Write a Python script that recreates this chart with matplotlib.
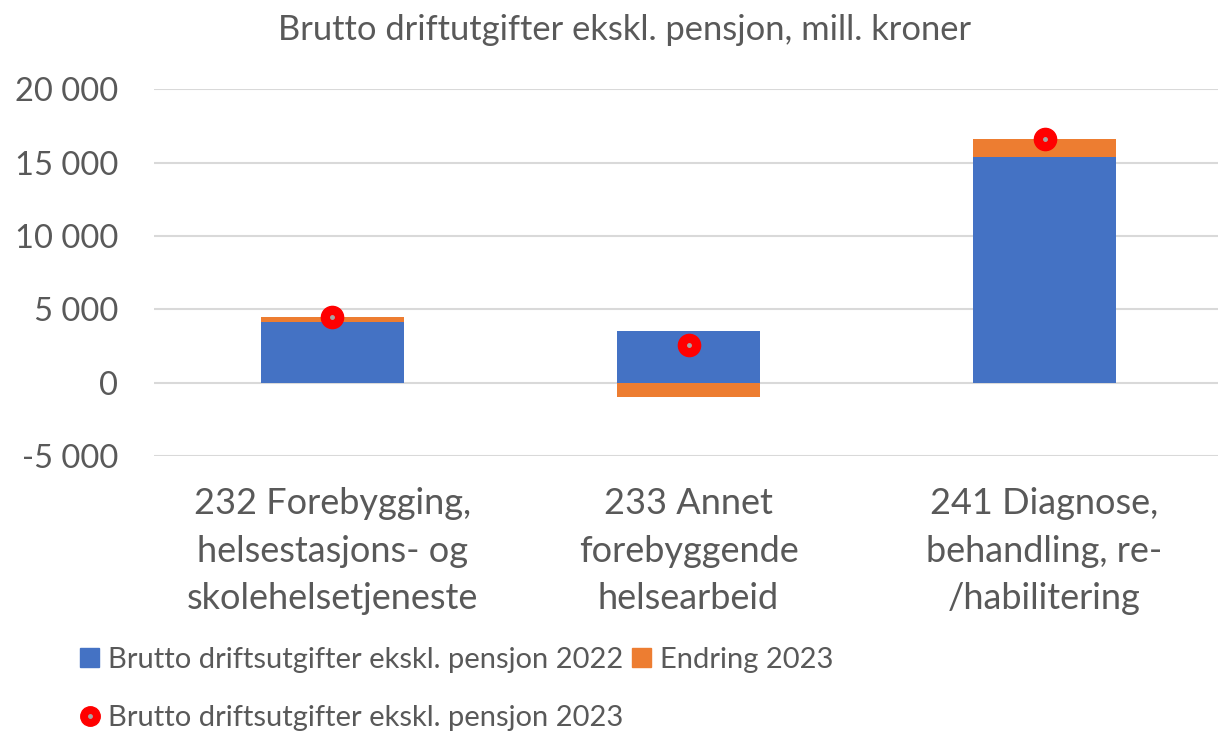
import matplotlib
matplotlib.use("Agg")
import matplotlib.pyplot as plt
from matplotlib.patches import Patch
from matplotlib.lines import Line2D

# data (mill. kroner)
categories = [
    "232 Forebygging,\nhelsestasjons- og\nskolehelsetjeneste",
    "233 Annet\nforebyggende\nhelsearbeid",
    "241 Diagnose,\nbehandling, re-\n/habilitering",
]
brutto_2022 = [4170, 3540, 15380]
endring_2023 = [280, -1000, 1210]
brutto_2023 = [4450, 2550, 16600]
yticks = [-5000, 0, 5000, 10000, 15000, 20000]

BLUE = "#4472C4"
ORANGE = "#ED7D31"
TEXT = "#595959"
GRID = "#D9D9D9"

plt.rcParams["font.family"] = ["Lato", "DejaVu Sans"]

fig = plt.figure(figsize=(12.18, 7.31), dpi=100)
ax = fig.add_axes([0.1268, 0.376, 0.877, 0.502])

x = list(range(len(categories)))
width = 0.4

ax.bar(x, brutto_2022, width, color=BLUE, zorder=2)
# change stacks on top of positive part, negative change drawn below zero
bottoms = [b if e >= 0 else 0 for b, e in zip(brutto_2022, endring_2023)]
ax.bar(x, endring_2023, width, bottom=bottoms, color=ORANGE, zorder=2)

ax.plot(x, brutto_2023, linestyle="none", marker="o", markersize=16,
        color="#FF0000", zorder=3)
ax.plot(x, brutto_2023, linestyle="none", marker="o", markersize=2.5,
        color="#A6A6A6", zorder=4)

ax.set_xlim(-0.5, len(categories) - 0.5)
ax.set_ylim(-5000, 20000)
ax.set_yticks(yticks)
ax.set_yticklabels([f"{v:,}".replace(",", " ") for v in yticks])
ax.set_xticks(x)
ax.set_xticklabels(categories, linespacing=1.55)

ax.grid(axis="y", color=GRID, linewidth=1.5, zorder=0)
for s in ax.spines.values():
    s.set_visible(False)
ax.tick_params(axis="y", length=0, pad=26, labelsize=23.5, labelcolor=TEXT)
ax.tick_params(axis="x", length=0, pad=22, labelsize=26, labelcolor=TEXT)

fig.text(0.513, 0.959, "Brutto driftutgifter ekskl. pensjon, mill. kroner",
         ha="center", va="center", fontsize=24.8, color=TEXT)

handles = [
    Patch(color=BLUE),
    (Line2D([], [], linestyle="none", marker="o", markersize=14, color="#FF0000"),
     Line2D([], [], linestyle="none", marker="o", markersize=2.5, color="#A6A6A6")),
    Patch(color=ORANGE),
]
labels = [
    "Brutto driftsutgifter ekskl. pensjon 2022",
    "Brutto driftsutgifter ekskl. pensjon 2023",
    "Endring 2023",
]
leg = fig.legend(handles, labels, ncol=2, loc="upper left", frameon=False,
                 fontsize=21, labelcolor=TEXT, handlelength=0.65,
                 handleheight=0.65, handletextpad=0.3, columnspacing=0.3,
                 labelspacing=1.1, borderaxespad=0, borderpad=0)
leg.set_bbox_to_anchor((0.066, 0.115), transform=fig.transFigure)

fig.savefig("out.png", dpi=100)
